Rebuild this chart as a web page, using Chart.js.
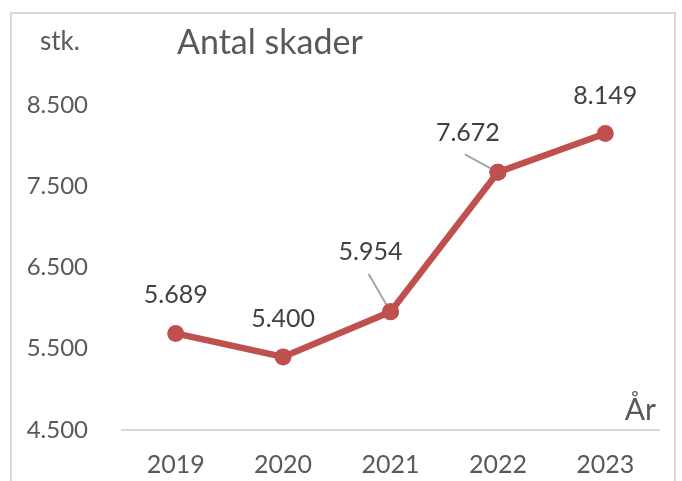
<!DOCTYPE html>
<html>
<head>
<meta charset="utf-8">
<script src="https://cdn.jsdelivr.net/npm/chart.js@4"></script>
<style>
  html, body { margin: 0; padding: 0; background: #fff; }
  #wrap { position: relative; width: 682px; height: 481px; overflow: hidden; }
  #frame {
    position: absolute; left: 10px; top: 12px; width: 666px; height: 480px;
    border: 2px solid #d9d9d9; box-sizing: border-box;
  }
  canvas { position: absolute; left: 0; top: 0; }
</style>
</head>
<body>
<div id="wrap">
  <div id="frame"></div>
  <canvas id="chart" width="682" height="481"></canvas>
</div>
<script>
// Data
const years = ["2019", "2020", "2021", "2022", "2023"];
const damages = [5689, 5400, 5954, 7672, 8149];
const yTicks = [4500, 5500, 6500, 7500, 8500];

const textColor = "#595959";
const lineColor = "#c0504d";
const fontFamily = "Lato, 'Open Sans', sans-serif";

// Danish thousand separator
const fmt = (v) => String(v).replace(/\B(?=(\d{3})+(?!\d))/g, ".");

// label placement tweaks (dx, dy from the point), leader line when moved sideways
const labelShift = {
  2: { dx: -20, dy: -60, leader: [-22, -38] },
  3: { dx: -30, dy: -39, leader: [-33, -18] },
};

const annotations = {
  id: "annotations",
  afterDatasetsDraw(chart) {
    const { ctx, chartArea } = chart;
    const meta = chart.getDatasetMeta(0);
    ctx.save();

    // texts around the plot
    ctx.fillStyle = textColor;
    ctx.textBaseline = "middle";
    ctx.textAlign = "left";
    ctx.font = "34px " + fontFamily;
    ctx.fillText("Antal skader", 177, 43);
    ctx.font = "26px " + fontFamily;
    ctx.fillText("stk.", 40, 42);
    ctx.font = "30px " + fontFamily;
    ctx.textAlign = "right";
    ctx.fillText("År", chartArea.right - 3, 410);

    // data labels
    ctx.font = "25px " + fontFamily;
    ctx.textAlign = "center";
    meta.data.forEach((pt, i) => {
      const s = labelShift[i];
      const dx = s ? s.dx : 0;
      const dy = s ? s.dy : -38;
      if (s) {
        ctx.strokeStyle = "#a6a6a6";
        ctx.lineWidth = 2;
        ctx.beginPath();
        ctx.moveTo(pt.x + s.leader[0], pt.y + s.leader[1]);
        ctx.lineTo(pt.x, pt.y);
        ctx.stroke();
      }
      ctx.fillStyle = "#404040";
      ctx.fillText(fmt(damages[i]), pt.x + dx, pt.y + dy);
    });
    ctx.restore();
  },
};

// draw the points again on top of the leader lines
const pointsOnTop = {
  id: "pointsOnTop",
  afterDraw(chart) {
    const { ctx } = chart;
    chart.getDatasetMeta(0).data.forEach((pt, i) => {
      if (!labelShift[i]) return;
      ctx.save();
      ctx.fillStyle = lineColor;
      ctx.beginPath();
      ctx.arc(pt.x, pt.y, 8.5, 0, Math.PI * 2);
      ctx.fill();
      ctx.restore();
    });
  },
};

new Chart(document.getElementById("chart"), {
  type: "line",
  data: {
    labels: years,
    datasets: [{
      data: damages,
      borderColor: lineColor,
      backgroundColor: lineColor,
      borderWidth: 6.5,
      pointRadius: 8.5,
      pointBorderWidth: 0,
      pointBackgroundColor: lineColor,
      tension: 0,
      clip: false,
    }],
  },
  options: {
    responsive: false,
    animation: false,
    devicePixelRatio: 1,
    layout: { padding: { top: 105, right: 23, bottom: 0, left: 0 } },
    plugins: {
      legend: { display: false },
      tooltip: { enabled: false },
    },
    scales: {
      x: {
        offset: true,
        grid: { display: false, drawTicks: false },
        border: { display: true, color: "#d9d9d9", width: 2 },
        ticks: {
          color: textColor,
          font: { family: fontFamily, size: 25 },
          padding: 20,
          maxRotation: 0,
        },
        afterFit(axis) { axis.height = 51; },
      },
      y: {
        min: 4500,
        max: 8500,
        afterBuildTicks(axis) { axis.ticks = yTicks.map((v) => ({ value: v })); },
        grid: { display: false, drawTicks: false },
        border: { display: false },
        ticks: {
          color: textColor,
          font: { family: fontFamily, size: 24 },
          padding: 34,
          callback: (v) => fmt(v),
        },
        afterFit(axis) { axis.width = 122; },
      },
    },
  },
  plugins: [annotations, pointsOnTop],
});
</script>
</body>
</html>
